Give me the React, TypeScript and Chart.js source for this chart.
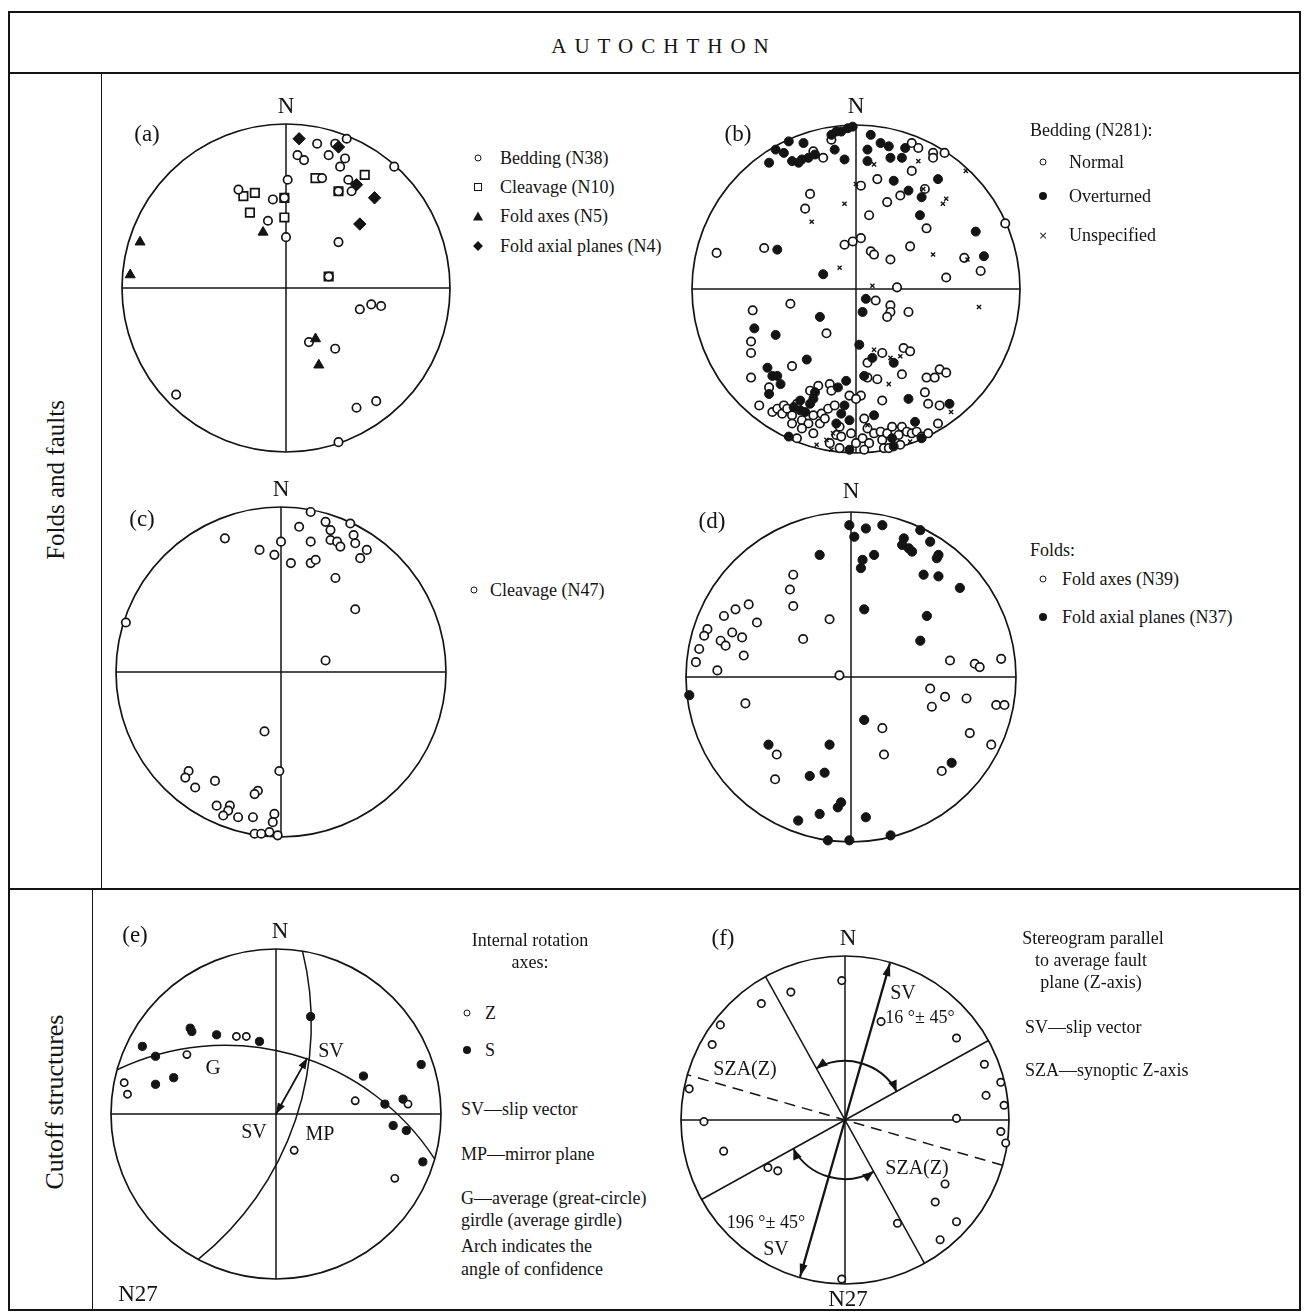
import React, { useEffect, useRef } from "react";
import { Chart, registerables } from "chart.js";

Chart.register(...registerables);

type P = [number, number];

// All values: stereographic projection coordinates, primitive circle radius = 100, north = +y.

// (a) Autochthon, folds and faults
const aBedding: P[] = [
  [37, 91], [19, 88], [30, 88], [26, 81], [7, 81], [11, 78], [36, 79], [33, 74], [66, 74], [1, 66],
  [22, 67], [38, 66], [40, 59], [32, 59], [-29, 60], [-8, 54], [-11, 41], [0, 31], [32, 28], [26, 7],
  [45, -13], [52, -10], [58, -11], [14, -33], [30, -37], [-67, -65], [43, -73], [55, -69], [32, -94], [-1, 55],
];
const aCleavage: P[] = [[-26, 56], [-19, 58], [-22, 46], [-1, 55], [-1, 43], [18, 67], [48, 69], [32, 59], [26, 7]];
const aFoldAxes: P[] = [[-89, 28], [-95, 8], [-14, 34], [18, -31], [20, -47]];
const aAxialPlanes: P[] = [[8, 91], [32, 86], [43, 63], [54, 55], [45, 39]];

// (b) Bedding
const bNormal: P[] = [
  [-15, 91], [-20, 80], [-26, 84], [34, 89], [38, 86], [47, 83], [54, 83], [47, 80], [34, 72], [13, 67],
  [3, 63], [27, 57], [42, 61], [19, 53], [8, 45], [43, 37], [-28, 58], [-31, 49], [-7, 27], [-2, 29],
  [3, 31], [9, 23], [11, 21], [21, 18], [33, 26], [66, 19], [76, 11], [55, 7], [91, 40], [-56, 25],
  [-85, 22], [25, 1], [-63, -13], [-40, -9], [-18, -27], [-64, -32], [-64, -39], [-39, -47], [-64, -54], [-53, -60],
  [-59, -71], [12, -7], [21, -10], [21, -14], [19, -17], [32, -14], [7, -45], [16, -39], [29, -36], [33, -38],
  [7, -54], [13, -55], [28, -52], [51, -49], [55, -51], [43, -54], [48, -54], [42, -63], [44, -70], [51, -71],
  [16, -68], [3, -65], [-28, -62], [-23, -59], [-16, -58], [-15, -62], [-4, -65], [0, -67], [-51, -75], [-48, -73],
  [-45, -76], [-44, -71], [-42, -73], [-39, -77], [-36, -70], [-33, -80], [-29, -82], [-26, -77], [-21, -76], [-17, -73],
  [-13, -71], [-10, -84], [-12, -89], [-16, -94], [-9, -90], [-3, -88], [0, -94], [4, -91], [7, -85], [5, -79],
  [8, -94], [11, -88], [15, -87], [16, -92], [17, -97], [19, -88], [22, -84], [26, -89], [28, -84], [31, -87],
  [34, -88], [37, -87], [40, -90], [44, -88], [50, -82], [27, -95], [20, -97], [5, -98], [-10, -97], [-36, -91],
  [-39, -82], [-33, -85], [-22, -82], [-19, -79], [-26, -88],
];
const bOverturned: P[] = [
  [-2, 99], [-5, 98], [-9, 96], [-12, 96], [-15, 94], [-32, 89], [-41, 90], [-49, 85], [-44, 83], [-53, 77],
  [-39, 78], [-35, 77], [-33, 79], [-29, 80], [-25, 82], [-13, 85], [-7, 79], [9, 94], [15, 89], [20, 87],
  [7, 85], [21, 80], [28, 80], [30, 86], [7, 78], [50, 67], [32, 60], [40, 56], [23, 66], [39, 45],
  [73, 35], [78, 20], [-48, 24], [-20, 9], [-22, -17], [-49, -28], [-62, -24], [-30, -43], [-54, -48], [-48, -53],
  [-51, -53], [-46, -58], [6, -6], [4, -14], [2, -34], [10, -42], [23, -45], [5, -53], [32, -67], [57, -70],
  [36, -81], [-6, -56], [-11, -60], [-7, -71], [-9, -76], [-4, -80], [-12, -82], [11, -77], [22, -91], [23, -96],
  [-4, -98], [-41, -90], [-38, -72], [-34, -74], [-31, -75], [-34, -68], [-25, -63], [-26, -67], [-28, -70], [40, -91],
  [-53, -64],
];
const bUnspecified: P[] = [
  [11, 76], [38, 78], [67, 72], [0, 64], [-7, 52], [-27, 41], [53, 52], [55, 55], [41, 61], [-10, 13],
  [47, 21], [68, 18], [10, 2], [75, -11], [11, -37], [21, -42], [27, -41], [20, -58], [58, -75], [33, -93],
  [-24, -95], [-18, -92], [-15, -98], [-14, -88], [7, -83],
];

// (c) Cleavage
const cCleavage: P[] = [
  [18, 97], [42, 90], [27, 91], [11, 88], [30, 86], [44, 83], [-34, 81], [0, 79], [18, 79], [30, 80],
  [34, 79], [36, 76], [45, 78], [52, 74], [-13, 74], [-4, 71], [48, 69], [6, 66], [18, 66], [21, 68],
  [33, 57], [45, 38], [-94, 30], [27, 7], [-10, -36], [-1, -60], [-56, -60], [-58, -64], [-40, -66], [-52, -70],
  [-14, -72], [-16, -74], [-39, -81], [-31, -81], [-32, -84], [-35, -87], [-26, -88], [-17, -88], [-4, -86], [-5, -91],
  [-7, -97], [-16, -98], [-12, -98], [-2, -99],
];

// (d) Folds
const dFoldAxes: P[] = [
  [-35, 62], [-37, 53], [-35, 43], [-62, 44], [-70, 41], [-77, 37], [-57, 33], [-87, 29], [-89, 25], [-72, 27],
  [-66, 24], [-79, 22], [-76, 19], [-92, 17], [-65, 13], [-94, 9], [-81, 4], [-13, 35], [-29, 23], [-7, 1],
  [60, 10], [75, 8], [78, 6], [91, 11], [48, -7], [57, -12], [70, -13], [49, -18], [88, -17], [93, -17],
  [-64, -16], [19, -31], [72, -34], [-45, -47], [20, -47], [85, -41], [-46, -62], [55, -57],
];
const dAxialPlanes: P[] = [
  [-1, 92], [2, 85], [9, 90], [19, 92], [42, 89], [32, 84], [31, 80], [35, 78], [37, 76], [48, 82],
  [53, 74], [52, 72], [14, 74], [7, 71], [6, 66], [-19, 74], [44, 62], [53, 61], [66, 54], [8, 41],
  [46, 37], [42, 22], [-98, -11], [8, -26], [-50, -41], [-13, -41], [-25, -60], [-16, -58], [-6, -76], [-8, -79],
  [-32, -87], [-19, -83], [9, -85], [-14, -99], [-1, -99], [24, -96], [61, -52],
];

// (e) Cutoff structures: internal rotation axes
const eZAxes: P[] = [[-24, 47], [-18, 47], [-54, 36], [-92, 19], [-90, 12], [48, 8], [80, 6], [11, -22], [72, -39]];
const eSAxes: P[] = [
  [21, 59], [-81, 41], [-52, 52], [-51, 50], [-36, 48], [-10, 44], [-73, 35], [-73, 18], [-62, 22], [88, 30],
  [53, 23], [66, 6], [77, 9], [71, -7], [79, -10], [89, -29],
];
const eGirdle: P[] = [[-96, 27], [0, 38.5], [96, -27]];
const eMirrorPlane: P[] = [[16, 99], [13, 0], [-47, -88]];
const eSlipVector: P[] = [[0, 0], [19, 34]];

// (f) Stereogram parallel to average fault plane
const fPoles: P[] = [
  [-2, 85], [-33, 78], [-51, 71], [-76, 58], [-81, 46], [22, 60], [68, 50], [85, 34], [95, 23], [86, 15],
  [97, 9], [68, 1], [95, -7], [98, -14], [-95, 19], [-86, -1], [-74, -19], [-47, -29], [-41, -31], [61, -39],
  [55, -50], [68, -62], [58, -73], [32, -63], [-2, -97],
];
const fSlipAzimuth = 16;
const fConfidence = 45;
const fSzaAzimuth = 106;
const fArcRadius = 36;

// ---------------- layout / style ----------------
const INK = "#141414";
const SERIF = '"Liberation Serif", "Times New Roman", Times, serif';
const PAD = 14;
const D2R = Math.PI / 180;

type Kind = "open" | "filled" | "square" | "triangle" | "diamond" | "cross";

function ds(label: string, data: P[], kind: Kind, r: number) {
  const common: any = {
    label,
    data: data.map(([x, y]) => ({ x, y })),
    clip: false,
    showLine: false,
    pointRadius: r,
    pointHoverRadius: r,
    pointBorderColor: INK,
  };
  switch (kind) {
    case "open":
      return { ...common, pointStyle: "circle", pointBackgroundColor: "#fff", pointBorderWidth: 1.7 };
    case "filled":
      return { ...common, pointStyle: "circle", pointBackgroundColor: INK, pointBorderWidth: 1 };
    case "square":
      return { ...common, pointStyle: "rect", pointBackgroundColor: "#fff", pointBorderWidth: 1.7 };
    case "triangle":
      return { ...common, pointStyle: "triangle", pointBackgroundColor: INK, pointBorderWidth: 1 };
    case "diamond":
      return { ...common, pointStyle: "rectRot", pointBackgroundColor: INK, pointBorderWidth: 1 };
    default:
      return { ...common, pointStyle: "crossRot", pointBorderWidth: 1.4 };
  }
}

interface Helpers {
  pt: (p: P) => { x: number; y: number };
  cx: number;
  cy: number;
  unit: number;
}

function arrowHead(ctx: CanvasRenderingContext2D, x: number, y: number, ang: number, len = 10, half = 4) {
  ctx.beginPath();
  ctx.moveTo(x, y);
  ctx.lineTo(x - len * Math.cos(ang) + half * Math.sin(ang), y - len * Math.sin(ang) - half * Math.cos(ang));
  ctx.lineTo(x - len * Math.cos(ang) - half * Math.sin(ang), y - len * Math.sin(ang) + half * Math.cos(ang));
  ctx.closePath();
  ctx.fill();
}

function arc3(ctx: CanvasRenderingContext2D, pts: { x: number; y: number }[]) {
  const [a, b, c] = pts;
  const d = 2 * (a.x * (b.y - c.y) + b.x * (c.y - a.y) + c.x * (a.y - b.y));
  const A = a.x * a.x + a.y * a.y, B = b.x * b.x + b.y * b.y, C = c.x * c.x + c.y * c.y;
  const ux = (A * (b.y - c.y) + B * (c.y - a.y) + C * (a.y - b.y)) / d;
  const uy = (A * (c.x - b.x) + B * (a.x - c.x) + C * (b.x - a.x)) / d;
  const r = Math.hypot(a.x - ux, a.y - uy);
  const a1 = Math.atan2(a.y - uy, a.x - ux);
  const a2 = Math.atan2(b.y - uy, b.x - ux);
  const a3 = Math.atan2(c.y - uy, c.x - ux);
  const norm = (v: number) => ((v % (2 * Math.PI)) + 2 * Math.PI) % (2 * Math.PI);
  const cw = norm(a2 - a1) < norm(a3 - a1);
  ctx.beginPath();
  ctx.arc(ux, uy, r, a1, a3, !cw);
  ctx.stroke();
}

function decorE(ctx: CanvasRenderingContext2D, h: Helpers) {
  ctx.lineWidth = 1.5;
  arc3(ctx, eGirdle.map(h.pt));
  arc3(ctx, eMirrorPlane.map(h.pt));
  const [p0, p1] = eSlipVector.map(h.pt);
  ctx.lineWidth = 1.8;
  ctx.beginPath();
  ctx.moveTo(p0.x, p0.y);
  ctx.lineTo(p1.x, p1.y);
  ctx.stroke();
  const ang = Math.atan2(p1.y - p0.y, p1.x - p0.x);
  arrowHead(ctx, p1.x, p1.y, ang, 11, 4);
  arrowHead(ctx, p0.x, p0.y, ang + Math.PI, 11, 4);
}

function decorF(ctx: CanvasRenderingContext2D, h: Helpers) {
  const dir = (az: number, rr: number) => h.pt([rr * Math.sin(az * D2R), rr * Math.cos(az * D2R)]);
  ctx.lineWidth = 1.5;
  for (const az of [fSlipAzimuth - fConfidence, fSlipAzimuth + fConfidence]) {
    const p = dir(az, 100), q = dir(az + 180, 100);
    ctx.beginPath();
    ctx.moveTo(p.x, p.y);
    ctx.lineTo(q.x, q.y);
    ctx.stroke();
  }
  // synoptic Z-axis (dashed)
  {
    const p = dir(fSzaAzimuth, 100), q = dir(fSzaAzimuth + 180, 100);
    ctx.save();
    ctx.setLineDash([11, 7]);
    ctx.beginPath();
    ctx.moveTo(p.x, p.y);
    ctx.lineTo(q.x, q.y);
    ctx.stroke();
    ctx.restore();
  }
  // slip vectors
  ctx.lineWidth = 2.3;
  for (const az of [fSlipAzimuth, fSlipAzimuth + 180]) {
    const t = dir(az, 99.5);
    ctx.beginPath();
    ctx.moveTo(h.cx, h.cy);
    ctx.lineTo(t.x, t.y);
    ctx.stroke();
    arrowHead(ctx, t.x, t.y, Math.atan2(t.y - h.cy, t.x - h.cx), 13, 4);
  }
  // confidence arches
  ctx.lineWidth = 2;
  const rp = fArcRadius * h.unit;
  for (const base of [fSlipAzimuth, fSlipAzimuth + 180]) {
    const t1 = (base - fConfidence - 90) * D2R;
    const t2 = (base + fConfidence - 90) * D2R;
    ctx.beginPath();
    ctx.arc(h.cx, h.cy, rp, t1, t2, false);
    ctx.stroke();
    arrowHead(ctx, h.cx + rp * Math.cos(t2), h.cy + rp * Math.sin(t2), t2 + Math.PI / 2 + 0.12, 11, 4.5);
    arrowHead(ctx, h.cx + rp * Math.cos(t1), h.cy + rp * Math.sin(t1), t1 - Math.PI / 2 - 0.12, 11, 4.5);
  }
}

interface NetSpec {
  cx: number;
  cy: number;
  r: number;
  datasets: any[];
  decor?: (ctx: CanvasRenderingContext2D, h: Helpers) => void;
}

function Stereonet({ spec }: { spec: NetSpec }) {
  const ref = useRef<HTMLCanvasElement>(null);
  const size = 2 * (spec.r + PAD);
  useEffect(() => {
    if (!ref.current) return;
    const frame = {
      id: "stereoFrame",
      beforeDatasetsDraw(chart: any) {
        const ctx: CanvasRenderingContext2D = chart.ctx;
        const xs = chart.scales.x, ys = chart.scales.y;
        const cx = xs.getPixelForValue(0), cy = ys.getPixelForValue(0);
        const unit = (xs.getPixelForValue(100) - cx) / 100;
        const h: Helpers = { pt: (p: P) => ({ x: xs.getPixelForValue(p[0]), y: ys.getPixelForValue(p[1]) }), cx, cy, unit };
        ctx.save();
        ctx.strokeStyle = INK;
        ctx.fillStyle = INK;
        ctx.lineWidth = 1.7;
        ctx.beginPath();
        ctx.arc(cx, cy, 100 * unit, 0, Math.PI * 2);
        ctx.stroke();
        ctx.lineWidth = 1.5;
        ctx.beginPath();
        ctx.moveTo(cx - 100 * unit, cy);
        ctx.lineTo(cx + 100 * unit, cy);
        ctx.moveTo(cx, cy - 100 * unit);
        ctx.lineTo(cx, cy + 100 * unit);
        ctx.stroke();
        if (spec.decor) spec.decor(ctx, h);
        ctx.restore();
      },
    };
    const chart = new Chart(ref.current, {
      type: "scatter",
      data: { datasets: spec.datasets },
      options: {
        responsive: false,
        maintainAspectRatio: false,
        animation: false,
        events: [],
        layout: { padding: PAD },
        scales: {
          x: { type: "linear", min: -100, max: 100, display: false },
          y: { type: "linear", min: -100, max: 100, display: false },
        },
        plugins: { legend: { display: false }, tooltip: { enabled: false } },
      },
      plugins: [frame as any],
    } as any);
    return () => chart.destroy();
  }, []);
  return (
    <canvas
      ref={ref}
      width={size}
      height={size}
      style={{ position: "absolute", left: spec.cx - spec.r - PAD, top: spec.cy - spec.r - PAD, width: size, height: size }}
    />
  );
}

const NETS: NetSpec[] = [
  {
    cx: 286, cy: 288, r: 164,
    datasets: [
      ds("Fold axial planes (N4)", aAxialPlanes, "diamond", 6.2),
      ds("Fold axes (N5)", aFoldAxes, "triangle", 5.8),
      ds("Bedding (N38)", aBedding, "open", 4.2),
      ds("Cleavage (N10)", aCleavage, "square", 6),
    ],
  },
  {
    cx: 856, cy: 289, r: 164,
    datasets: [
      ds("Unspecified", bUnspecified, "cross", 2.9),
      ds("Overturned", bOverturned, "filled", 4.5),
      ds("Normal", bNormal, "open", 4.2),
    ],
  },
  { cx: 281, cy: 672, r: 165, datasets: [ds("Cleavage (N47)", cCleavage, "open", 4.2)] },
  {
    cx: 851, cy: 677, r: 165,
    datasets: [ds("Fold axial planes (N37)", dAxialPlanes, "filled", 4.6), ds("Fold axes (N39)", dFoldAxes, "open", 4.2)],
  },
  {
    cx: 276, cy: 1114, r: 165,
    datasets: [ds("S", eSAxes, "filled", 4.1), ds("Z", eZAxes, "open", 3.6)],
    decor: decorE,
  },
  { cx: 845, cy: 1120, r: 164, datasets: [ds("Poles", fPoles, "open", 3.7)], decor: decorF },
];

function Txt({ x, y, s = 18, c = false, ls, children }: any) {
  return (
    <div
      style={{
        position: "absolute",
        left: x,
        top: y,
        transform: `translate(${c ? "-50%" : "0"}, -50%)`,
        fontFamily: SERIF,
        fontSize: s,
        lineHeight: 1,
        whiteSpace: "nowrap",
        color: INK,
        letterSpacing: ls,
      }}
    >
      {children}
    </div>
  );
}

function Sym({ x, y, k }: { x: number; y: number; k: Kind }) {
  const base: any = { position: "absolute", left: x, top: y, transform: "translate(-50%, -50%)" };
  if (k === "open") return <div style={{ ...base, width: 5, height: 5, border: `1.6px solid ${INK}`, borderRadius: "50%" }} />;
  if (k === "filled") return <div style={{ ...base, width: 8, height: 8, background: INK, borderRadius: "50%" }} />;
  if (k === "square") return <div style={{ ...base, width: 6, height: 6, border: `1.6px solid ${INK}` }} />;
  if (k === "triangle")
    return <div style={{ ...base, width: 0, height: 0, borderLeft: "5px solid transparent", borderRight: "5px solid transparent", borderBottom: `9px solid ${INK}` }} />;
  if (k === "diamond") return <div style={{ ...base, width: 7, height: 7, background: INK, transform: "translate(-50%, -50%) rotate(45deg)" }} />;
  return <div style={{ ...base, fontFamily: "DejaVu Sans", fontSize: 11, lineHeight: 1, color: INK }}>×</div>;
}

function Line({ x, y, w, h }: any) {
  return <div style={{ position: "absolute", left: x, top: y, width: w, height: h, background: INK }} />;
}

function Rot({ x, y, s, children }: any) {
  return (
    <div
      style={{
        position: "absolute",
        left: x,
        top: y,
        transform: "translate(-50%, -50%) rotate(-90deg)",
        fontFamily: SERIF,
        fontSize: s,
        lineHeight: 1,
        whiteSpace: "nowrap",
        color: INK,
      }}
    >
      {children}
    </div>
  );
}

export default function App() {
  return (
    <div style={{ position: "absolute", left: 0, top: 0, width: 1306, height: 1316, background: "#fff", overflow: "hidden" }}>
      {/* frame */}
      <Line x={8} y={11} w={1293} h={1.6} />
      <Line x={8} y={1309} w={1293} h={1.6} />
      <Line x={8} y={11} w={1.6} h={1300} />
      <Line x={1299} y={11} w={1.6} h={1300} />
      <Line x={8} y={72} w={1293} h={1.6} />
      <Line x={8} y={888} w={1293} h={1.6} />
      <Line x={101} y={72} w={1.4} h={817} />
      <Line x={92} y={888} w={1.4} h={422} />

      <Txt x={664} y={46} s={21} c ls={8}>AUTOCHTHON</Txt>
      <Rot x={55} y={480} s={25}>Folds and faults</Rot>
      <Rot x={55} y={1102} s={26}>Cutoff structures</Rot>

      {NETS.map((n, i) => (
        <Stereonet key={i} spec={n} />
      ))}

      {/* panel letters and north marks */}
      <Txt x={286} y={105} s={23} c>N</Txt>
      <Txt x={147} y={133} s={23} c>(a)</Txt>
      <Txt x={856} y={105} s={23} c>N</Txt>
      <Txt x={738} y={133} s={23} c>(b)</Txt>
      <Txt x={281} y={488} s={23} c>N</Txt>
      <Txt x={142} y={518} s={23} c>(c)</Txt>
      <Txt x={851} y={490} s={23} c>N</Txt>
      <Txt x={712} y={520} s={23} c>(d)</Txt>
      <Txt x={280} y={930} s={23} c>N</Txt>
      <Txt x={135} y={934} s={23} c>(e)</Txt>
      <Txt x={848} y={937} s={23} c>N</Txt>
      <Txt x={723} y={937} s={23} c>(f)</Txt>
      <Txt x={138} y={1293} s={23} c>N27</Txt>
      <Txt x={848} y={1298} s={23} c>N27</Txt>

      {/* (a) legend */}
      <Sym x={478} y={158} k="open" />
      <Txt x={500} y={158}>Bedding (N38)</Txt>
      <Sym x={478} y={187} k="square" />
      <Txt x={500} y={187}>Cleavage (N10)</Txt>
      <Sym x={478} y={216} k="triangle" />
      <Txt x={500} y={216}>Fold axes (N5)</Txt>
      <Sym x={478} y={246} k="diamond" />
      <Txt x={500} y={246}>Fold axial planes (N4)</Txt>

      {/* (b) legend */}
      <Txt x={1030} y={130}>Bedding (N281):</Txt>
      <Sym x={1043} y={162} k="open" />
      <Txt x={1069} y={162}>Normal</Txt>
      <Sym x={1043} y={196} k="filled" />
      <Txt x={1069} y={196}>Overturned</Txt>
      <Sym x={1043} y={235} k="cross" />
      <Txt x={1069} y={235}>Unspecified</Txt>

      {/* (c) legend */}
      <Sym x={474} y={590} k="open" />
      <Txt x={490} y={590}>Cleavage (N47)</Txt>

      {/* (d) legend */}
      <Txt x={1030} y={550}>Folds:</Txt>
      <Sym x={1043} y={579} k="open" />
      <Txt x={1062} y={579}>Fold axes (N39)</Txt>
      <Sym x={1043} y={617} k="filled" />
      <Txt x={1062} y={617}>Fold axial planes (N37)</Txt>

      {/* (e) annotations */}
      <Txt x={213} y={1067} s={21} c>G</Txt>
      <Txt x={331} y={1050} s={20} c>SV</Txt>
      <Txt x={254} y={1131} s={20} c>SV</Txt>
      <Txt x={320} y={1133} s={20} c>MP</Txt>
      <Txt x={530} y={940} c>Internal rotation</Txt>
      <Txt x={530} y={962} c>axes:</Txt>
      <Sym x={467} y={1013} k="open" />
      <Txt x={485} y={1013}>Z</Txt>
      <Sym x={467} y={1050} k="filled" />
      <Txt x={485} y={1050}>S</Txt>
      <Txt x={461} y={1109}>SV—slip vector</Txt>
      <Txt x={461} y={1154}>MP—mirror plane</Txt>
      <Txt x={461} y={1198}>G—average (great-circle)</Txt>
      <Txt x={461} y={1220}>girdle (average girdle)</Txt>
      <Txt x={461} y={1246}>Arch indicates the</Txt>
      <Txt x={461} y={1269}>angle of confidence</Txt>

      {/* (f) annotations */}
      <Txt x={903} y={992} s={20} c>SV</Txt>
      <Txt x={920} y={1017} s={18} c>16 °± 45°</Txt>
      <Txt x={745} y={1068} s={20} c>SZA(Z)</Txt>
      <Txt x={917} y={1167} s={20} c>SZA(Z)</Txt>
      <Txt x={766} y={1222} s={18} c>196 °± 45°</Txt>
      <Txt x={776} y={1248} s={20} c>SV</Txt>
      <Txt x={1093} y={938} c>Stereogram parallel</Txt>
      <Txt x={1091} y={960} c>to average fault</Txt>
      <Txt x={1091} y={982} c>plane (Z-axis)</Txt>
      <Txt x={1025} y={1027}>SV—slip vector</Txt>
      <Txt x={1025} y={1070}>SZA—synoptic Z-axis</Txt>
    </div>
  );
}
